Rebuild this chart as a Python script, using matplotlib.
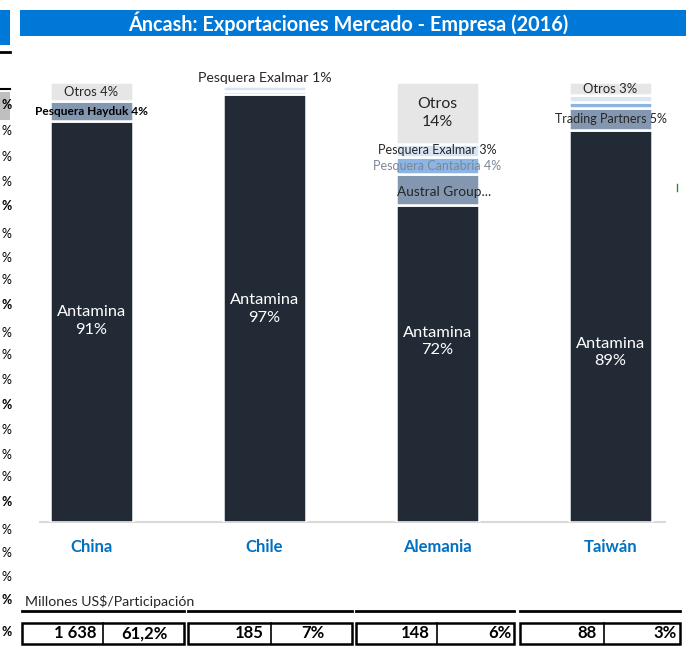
import matplotlib
matplotlib.use("Agg")
import matplotlib.pyplot as plt
from matplotlib.patches import Rectangle
from matplotlib.lines import Line2D

plt.rcParams['font.family'] = ['Lato', 'DejaVu Sans']

W, H = 686, 646

# --- datos ---
paises = ["China", "Chile", "Alemania", "Taiwán"]

china_empresas = ["Antamina", "Pesquera Hayduk", "Otros"]
china_part = [91.2, 4.4, 4.4]
chile_empresas = ["Antamina", "Otra empresa", "Pesquera Exalmar"]
chile_part = [97.2, 0.8, 1.0]
alemania_empresas = ["Antamina", "Austral Group", "Pesquera Cantabria", "Pesquera Exalmar", "Otros"]
alemania_part = [72, 7, 4, 3, 14]
taiwan_empresas = ["Antamina", "Trading Partners", "Otra empresa", "Otra empresa 2", "Otros"]
taiwan_part = [89, 5, 1.5, 1.5, 3]

millones = [1638, 185, 148, 88]
participacion = [61.2, 7, 6, 3]

empresas = [china_empresas, chile_empresas, alemania_empresas, taiwan_empresas]
partes = [china_part, chile_part, alemania_part, taiwan_part]

colores = {
    "Antamina": "#222A35",
    "Pesquera Hayduk": "#8497B0",
    "Austral Group": "#8497B0",
    "Trading Partners": "#8497B0",
    "Pesquera Cantabria": "#8DB4E2",
    "Otra empresa": "#8DB4E2",
    "Pesquera Exalmar": "#D6E4F4",
    "Otra empresa 2": "#DCE6F2",
    "Otros": "#E6E6E6",
}
azul = "#0078D7"

# where the Antamina label sits (in % units), as in the source sheet
antamina_label_y = [45.7, 48.4, 41.0, 38.6]


def fx(x):
    return x / W


def fy(y):
    return 1 - y / H


fig = plt.figure(figsize=(W / 100, H / 100), dpi=100)

# title bar
fig.patches.append(Rectangle((fx(20), fy(36)), fx(666), 26 / H, transform=fig.transFigure,
                             facecolor=azul, edgecolor="none"))
fig.text(fx(348), fy(23), "Áncash: Exportaciones Mercado - Empresa (2016)", color="white",
         fontsize=14.3, fontweight="bold", ha="center", va="center")

# bits of the neighbouring cells on the left edge
fig.patches.append(Rectangle((0, fy(45)), fx(10), 35 / H, transform=fig.transFigure,
                             facecolor=azul, edgecolor="none"))
fig.lines.append(Line2D([0, fx(10)], [fy(52), fy(52)], transform=fig.transFigure, color="black", lw=2))
fig.lines.append(Line2D([0, fx(10)], [fy(89), fy(89)], transform=fig.transFigure, color="black", lw=1.5))
fig.patches.append(Rectangle((0, fy(120)), fx(10), 28 / H, transform=fig.transFigure,
                             facecolor="#BFBFBF", edgecolor="none"))
pct_y = [105, 131, 157, 182, 206, 234, 258, 280, 305, 333, 355, 380, 405, 430, 455, 477,
         502, 530, 553, 577, 600, 632]
for k, yy in enumerate(pct_y):
    bold = (k % 4 == 0) or yy == 632
    fig.text(fx(1), fy(yy), "%", fontsize=9, ha="left", va="center",
             fontweight="bold" if bold else "normal", color="black")

# small green mark at the right
fig.lines.append(Line2D([fx(677), fx(677)], [fy(184), fy(191)], transform=fig.transFigure,
                        color="#2E8B2E", lw=1))

# --- barras ---
ax = fig.add_axes([fx(40), fy(522), 625 / W, 440 / H])
ax.set_xlim(-0.298, 3.315)
ax.set_ylim(0, 100)
ax.axis("off")
ax.plot([0.0, 1.0], [0, 0], transform=ax.transAxes, color="#D9D9D9", lw=1.5, zorder=1, clip_on=False)

bw = 0.48
for i, (names, vals) in enumerate(zip(empresas, partes)):
    bottom = 0
    for j, (name, v) in enumerate(zip(names, vals)):
        ax.bar(i, v, bw, bottom=bottom, color=colores[name], edgecolor="white", linewidth=1.8, zorder=2)
        mid = bottom + v / 2
        pct = f"{v:.0f}%"
        if name == "Antamina":
            ax.text(i, antamina_label_y[i], f"Antamina\n{pct}", color="white", fontsize=11.8,
                    ha="center", va="center", linespacing=1.3, zorder=3)
        elif name.startswith("Otra empresa"):
            pass
        elif name == "Otros" and v >= 10:
            ax.text(i, mid, f"Otros\n{pct}", color="#262626", fontsize=11.4, ha="center",
                    va="center", linespacing=1.4, zorder=3)
        elif name == "Pesquera Hayduk":
            ax.text(i, mid, f"Pesquera Hayduk {pct}", color="black", fontsize=8.6, fontweight="bold",
                    ha="center", va="center", zorder=3, clip_on=False)
        elif name == "Pesquera Exalmar" and j == len(names) - 1:
            ax.text(i, bottom + v + 2.0, f"Pesquera Exalmar {pct}", color="#262626", fontsize=10.2,
                    ha="center", va="center", zorder=3, clip_on=False)
        elif name == "Pesquera Cantabria":
            ax.text(i, mid, f"Pesquera Cantabria {pct}", color="#7A8797", fontsize=9,
                    ha="center", va="center", zorder=3, clip_on=False)
        elif name == "Austral Group":
            ax.text(i + 0.04, mid - 0.5, "Austral Group...", color="#262626", fontsize=9.8,
                    ha="center", va="center", zorder=3, clip_on=False)
        elif name == "Otros":
            ax.text(i, mid, f"Otros {pct}", color="#262626", fontsize=9.4,
                    ha="center", va="center", zorder=3, clip_on=False)
        else:
            ax.text(i, mid, f"{name} {pct}", color="#262626", fontsize=9,
                    ha="center", va="center", zorder=3, clip_on=False)
        bottom += v

for i, p in enumerate(paises):
    ax.text(i, -5.7, p, color="#0070C0", fontsize=12, fontweight="bold",
            ha="center", va="center", clip_on=False)

# --- tabla inferior ---
fig.text(fx(25), fy(601), "Millones US$/Participación", fontsize=10.2, color="#262626",
         ha="left", va="center")
cajas = [(22, 184, 103), (188, 352, 271), (356, 514, 437), (520, 680, 604)]
alineacion = ["center", "center", "right", "right"]
for k, (x0, x1, xm) in enumerate(cajas):
    fig.lines.append(Line2D([fx(x0), fx(x1)], [fy(611), fy(611)], transform=fig.transFigure,
                            color="black", lw=2))
    fig.patches.append(Rectangle((fx(x0), fy(644)), (x1 - x0) / W, 21 / H, transform=fig.transFigure,
                                 facecolor="white", edgecolor="black", lw=1.8))
    fig.lines.append(Line2D([fx(xm), fx(xm)], [fy(644), fy(623)], transform=fig.transFigure,
                            color="black", lw=1.2))
    mtxt = f"{millones[k]:,}".replace(",", " ")
    ptxt = f"{participacion[k]:g}".replace(".", ",") + "%"
    fig.text(fx(xm - 7), fy(633.5), mtxt, fontsize=12, fontweight="bold", ha="right", va="center")
    if alineacion[k] == "center":
        fig.text(fx((xm + x1) / 2 + 1), fy(633.5), ptxt, fontsize=12, fontweight="bold",
                 ha="center", va="center")
    else:
        fig.text(fx(x1 - 3), fy(633.5), ptxt, fontsize=12, fontweight="bold", ha="right", va="center")

fig.savefig("out.png", dpi=100)
